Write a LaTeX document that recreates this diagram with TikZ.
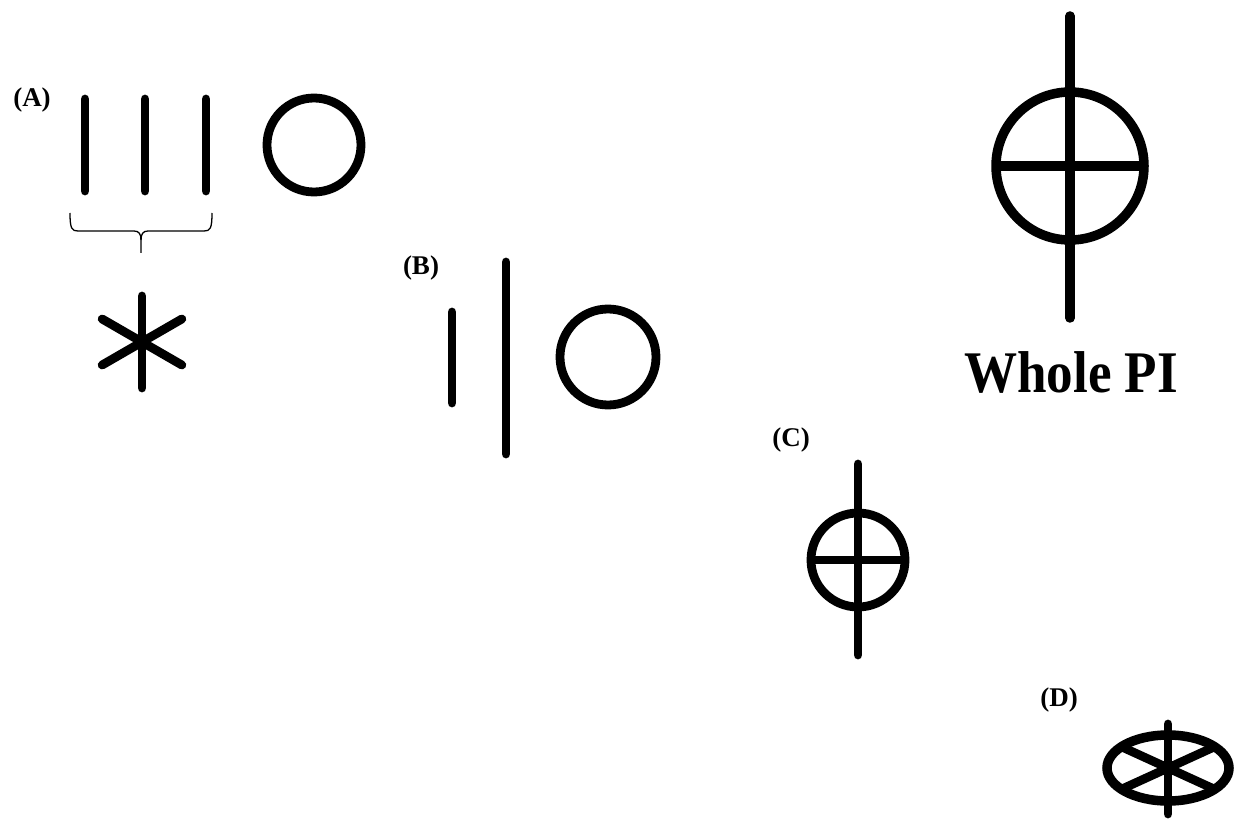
\documentclass[tikz,border=0pt]{standalone}
\usepackage{fontspec}
\setmainfont{Liberation Serif}
\usetikzlibrary{calc}
\begin{document}
\begin{tikzpicture}[x=1pt,y=-1pt,
  thick line/.style={line width=8.8pt,line cap=round},
  ring/.style={line width=8.8pt},
  lbl/.style={font=\fontsize{27}{30}\selectfont\bfseries,inner sep=0pt},
  thin brace/.style={line width=1.3pt}]
\useasboundingbox (0,0) rectangle (1243,821);
% (A)
\node[lbl] (labA) at (32,100) {(A)};
\draw[thick line] (85,99) -- (85,191);
\draw[thick line] (145,99) -- (145,191);
\draw[thick line] (206,99) -- (206,191);
\draw[ring] (314,145) circle[radius=47];
\draw[thin brace] (70,213) .. controls (70,229) and (72,231) .. (78,231) -- (134,231) .. controls (139,231) and (141,234) .. (141,240) -- (141,253);
\draw[thin brace] (212,213) .. controls (212,229) and (210,231) .. (204,231) -- (148,231) .. controls (143,231) and (141,234) .. (141,240);
\coordinate (ast) at (142,342);
\foreach \a in {90,30,-30} {
  \draw[thick line] ($(ast)+(\a:46)$) -- ($(ast)+(\a+180:46)$);
}
% (B)
\node[lbl] (labB) at (421,268) {(B)};
\draw[thick line] (452,312) -- (452,403);
\draw[thick line] (506,262) -- (506,454);
\draw[ring] (608,357) circle[radius=48];
% Whole PI
\draw[line width=9.5pt,line cap=round] (1070,16) -- (1070,318);
\draw[line width=9.5pt] (1070,166) circle[radius=74];
\draw[line width=9.5pt] (996,166) -- (1144,166);
\node[font=\fontsize{59}{60}\selectfont\bfseries,inner sep=0pt,anchor=base,xscale=0.9] (whole) at (1071,392) {Whole PI};
% (C)
\node[lbl] (labC) at (791,440) {(C)};
\draw[thick line] (858,464) -- (858,655);
\draw[ring] (858,560) circle[radius=47];
\draw[ring] (811,560) -- (905,560);
% (D)
\node[lbl] (labD) at (1059,700) {(D)};
\draw[line width=9.5pt] (1168,768) ellipse[x radius=61,y radius=33];
\draw[thick line] (1168,724) -- (1168,814);
\draw[ring] (1122,747) -- (1214,789);
\draw[ring] (1122,789) -- (1214,747);
\end{tikzpicture}
\end{document}
